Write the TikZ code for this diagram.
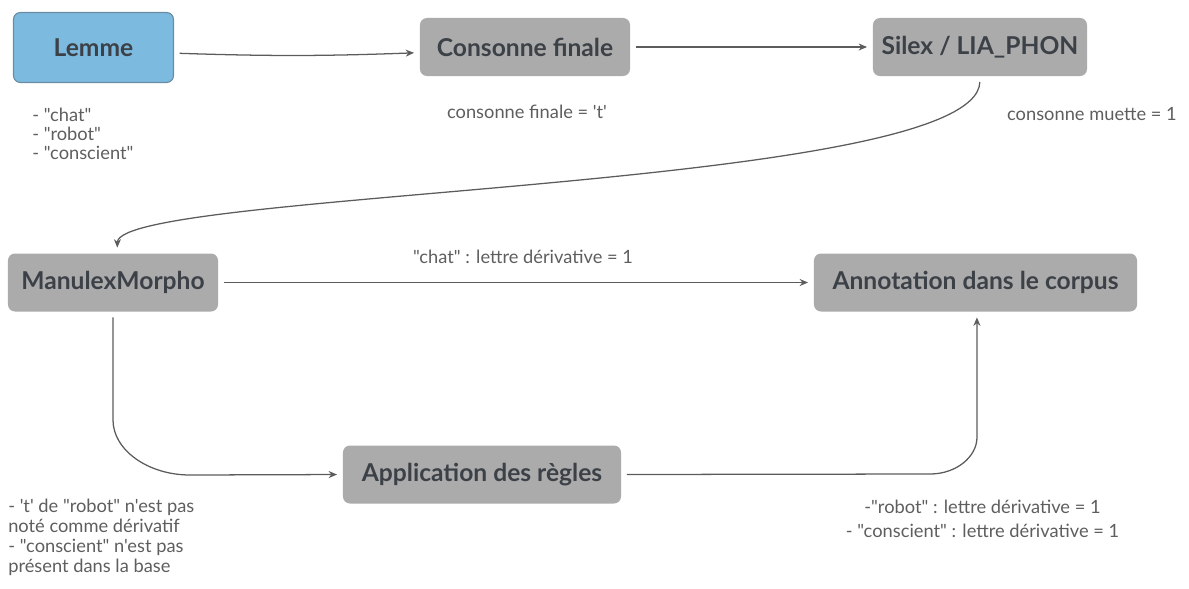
\documentclass[tikz,border=0pt]{standalone}
\usepackage{fontspec}
\setmainfont{Lato}[Ligatures=TeXOff]
\usetikzlibrary{arrows.meta,positioning}
\definecolor{etapegris}{HTML}{ABABAB}
\definecolor{etapetexte}{HTML}{3C4148}
\definecolor{lemmebleu}{HTML}{7DBADF}
\definecolor{lemmebord}{HTML}{6A8CA3}
\definecolor{fleche}{HTML}{5C5C5C}
\definecolor{notegris}{HTML}{5E5E5E}

\begin{document}
\begin{tikzpicture}
[x=0.025cm,y=-0.025cm,
etape/.style={shape=rectangle,rounded corners=5pt,fill=etapegris,text=etapetexte,
  font=\bfseries\fontsize{17.5}{20}\selectfont,minimum height=1.45cm,inner sep=0pt},
lemme/.style={etape,fill=lemmebleu,draw=lemmebord,line width=.8pt,minimum height=1.75cm},
flux/.style={draw=fleche,line width=.9pt,-{Stealth[length=6pt,width=5pt]},
  shorten >=4pt,shorten <=4pt},
note/.style={text=notegris,font=\fontsize{13}{13.5}\selectfont,inner sep=0pt}]
\useasboundingbox (0,0) rectangle (1189,588);
%%
% etapes
%%
\node[lemme,minimum width=4cm] (lem) at (93.5,47.5) {Lemme};
\node[etape,minimum width=5.25cm] (cons) at (525,47) {Consonne finale};
\node[etape,minimum width=5.35cm] (silex) at (980,47) {Silex / LIA\_PHON};
\node[etape,minimum width=5.25cm] (manu) at (113,282.5) {ManulexMorpho};
\node[etape,minimum width=8.075cm] (annot) at (975.5,282.5) {Annotation dans le corpus};
\node[etape,minimum width=6.95cm] (regles) at (482,474.5) {Application des règles};
%%
% notes
%%
\node[note,anchor=north west,align=left] (mots) at (32,108)
{- "chat"\\- "robot"\\- "conscient"};
\node[note,anchor=base] (finale) at (527,118) {consonne finale = 't'};
\node[note,anchor=base east] (muette) at (1177,120) {consonne muette = 1};
\node[note,anchor=base] (chat) at (523,263) {"chat" : lettre dérivative = 1};
\node[note,anchor=north west,align=left,font=\fontsize{13}{14.2}\selectfont] (absent) at (8,499)
{- 't' de "robot" n'est pas\\noté comme dérivatif\\- "conscient" n'est pas\\présent dans la base};
\node[note,anchor=north,align=center,font=\fontsize{13}{17}\selectfont] (regle) at (982.5,500)
{-"robot" : lettre dérivative = 1\\- "conscient" : lettre dérivative = 1};
%%
% fleches
%%
\draw[flux] ([yshift=-4pt]lem.east) to[bend right=2] ([yshift=-4pt]cons.west);
\draw[flux] (cons.east) -- (silex.west);
\draw[flux] (silex.south) .. controls (977,190) and (118,190) .. ([xshift=3pt]manu.north);
\draw[flux] (manu.east) -- (annot.west);
\draw[flux] (manu.south) -- (113,420) .. controls (113,450) and (148,475) .. (190,475)
  -- (regles.west);
\draw[flux] (regles.east) -- (930,474) .. controls (956,474) and (977,457) .. (977,437)
  -- ([xshift=1pt]annot.south);
\end{tikzpicture}
\end{document}
